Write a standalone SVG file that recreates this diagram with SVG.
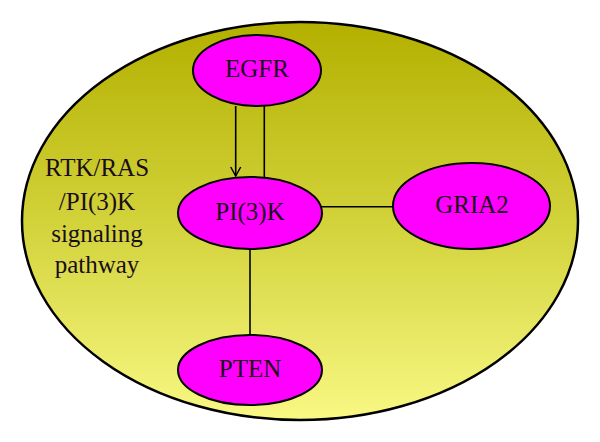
<svg xmlns="http://www.w3.org/2000/svg" width="600" height="442" viewBox="0 0 600 442">
  <defs>
    <linearGradient id="bg" x1="0" y1="0" x2="0" y2="1">
      <stop offset="0" stop-color="#b3b000"/>
      <stop offset="0.5" stop-color="#d2d23a"/>
      <stop offset="1" stop-color="#f8f884"/>
    </linearGradient>
    <marker id="arr" markerWidth="12" markerHeight="12" refX="10" refY="6" orient="auto" markerUnits="userSpaceOnUse">
      <path d="M1,1 L10,6 L1,11" fill="none" stroke="#000" stroke-width="1.5"/>
    </marker>
  </defs>
  <style>
    .node { fill: #ff00ff; stroke: #000; stroke-width: 2; }
    .lbl { font-family: "Liberation Serif", "Times New Roman", serif; font-size: 25px; fill: #1a0d1a; text-anchor: middle; }
    .edge { stroke: #000; stroke-width: 1.6; fill: none; }
  </style>
  <rect width="600" height="442" fill="#fff"/>
  <g id="pathway">
    <ellipse cx="300" cy="221" rx="278" ry="199" fill="url(#bg)" stroke="#000" stroke-width="2.5"/>
    <text class="lbl"><tspan x="97" y="176">RTK/RAS</tspan><tspan x="97" y="210">/PI(3)K</tspan><tspan x="97" y="242">signaling</tspan><tspan x="97" y="273">pathway</tspan></text>
  </g>
  <g id="connectors">
    <line class="edge" x1="235.7" y1="106" x2="235.7" y2="176" marker-end="url(#arr)"/>
    <line class="edge" x1="264.3" y1="106" x2="264.3" y2="178"/>
    <line class="edge" x1="322" y1="206.7" x2="393" y2="206.7"/>
    <line class="edge" x1="250" y1="249" x2="250" y2="335"/>
  </g>
  <g id="EGFR">
    <ellipse class="node" cx="257" cy="70.5" rx="64" ry="35.5"/>
    <text class="lbl" x="257" y="77">EGFR</text>
  </g>
  <g id="PI3K">
    <ellipse class="node" cx="250" cy="213" rx="72" ry="36"/>
    <text class="lbl" x="250" y="220">PI(3)K</text>
  </g>
  <g id="GRIA2">
    <ellipse class="node" cx="471.5" cy="206" rx="78.5" ry="43"/>
    <text class="lbl" x="472" y="213">GRIA2</text>
  </g>
  <g id="PTEN">
    <ellipse class="node" cx="250" cy="370" rx="72" ry="35"/>
    <text class="lbl" x="250" y="377">PTEN</text>
  </g>
</svg>
